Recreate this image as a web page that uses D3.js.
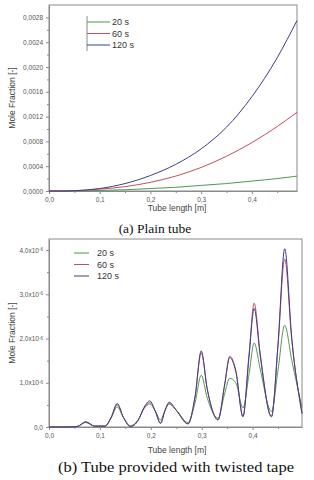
<!DOCTYPE html>
<html>
<head>
<meta charset="utf-8">
<script src="https://cdn.jsdelivr.net/npm/d3@7"></script>
<style>
  body { margin: 0; background: #fff; }
  svg { display: block; }
  .tick text { fill: #555; font-family: "Liberation Sans", Arial, sans-serif; }
  .domain { stroke: #8a8a8a; }
  .tick line { stroke: #8a8a8a; }
</style>
</head>
<body>
<div id="chart-area"></div>
<script>
// series names / colours
var seriesNames = ["20 s", "60 s", "120 s"];
var seriesColours = ["#4e9a4e", "#c0505a", "#3b3f8f"];

// (a) plain tube
var plainX   = [0, 0.03, 0.05, 0.1, 0.15, 0.2, 0.25, 0.3, 0.35, 0.4, 0.45, 0.489];
var plain20  = [0, 0, 0, 0.00001, 0.00002, 0.00004, 0.00006, 0.00009, 0.00012, 0.00016, 0.0002, 0.00024];
var plain60  = [0, 0, 0.000003, 0.00003, 0.00007, 0.00014, 0.00024, 0.00038, 0.00056, 0.00078, 0.00104, 0.00127];
var plain120 = [0, 0, 0.000005, 0.00004, 0.00012, 0.00025, 0.00043, 0.00068, 0.00103, 0.00152, 0.00215, 0.00275];
var plainYTicks = [0, 0.0004, 0.0008, 0.0012, 0.0016, 0.002, 0.0024, 0.0028];

// (b) twisted tape  (values in 1e-6)
var tapeX   = [0, 0.03, 0.055, 0.072, 0.09, 0.11, 0.122, 0.134, 0.146, 0.16, 0.175, 0.187, 0.198, 0.209, 0.219, 0.228, 0.236, 0.25, 0.273, 0.287, 0.299, 0.311, 0.332, 0.345, 0.355, 0.367, 0.381, 0.393, 0.403, 0.415, 0.437, 0.45, 0.463, 0.477, 0.497];
var tape20  = [0, 0, 0.01, 0.1, 0.02, 0.02, 0.2, 0.45, 0.22, 0.03, 0.16, 0.42, 0.52, 0.36, 0.16, 0.38, 0.52, 0.38, 0.1, 0.55, 1.17, 0.65, 0.2, 0.75, 1.1, 1.0, 0.43, 1.2, 1.9, 1.3, 0.35, 1.3, 2.3, 1.5, 0.45];
var tape60  = [0, 0, 0.01, 0.11, 0.02, 0.02, 0.21, 0.5, 0.22, 0.01, 0.15, 0.43, 0.55, 0.35, 0.09, 0.37, 0.53, 0.38, 0.07, 0.68, 1.68, 0.85, 0.17, 0.95, 1.6, 1.28, 0.24, 1.65, 2.8, 1.65, 0.24, 1.85, 3.8, 1.95, 0.32];
var tape120 = [0, 0, 0.01, 0.12, 0.02, 0.02, 0.22, 0.53, 0.22, 0.01, 0.15, 0.45, 0.59, 0.35, 0.08, 0.38, 0.56, 0.38, 0.07, 0.7, 1.72, 0.85, 0.16, 0.95, 1.57, 1.25, 0.23, 1.6, 2.68, 1.6, 0.23, 1.9, 4.03, 2.0, 0.3];
var tapeYTicks = [0, 1, 2, 3, 4];

var xTicks = [0, 0.1, 0.2, 0.3, 0.4];

var W = 314, H = 480;
var svg = d3.select("#chart-area").append("svg")
    .attr("width", W)
    .attr("height", H);

function comma(s) { return s.replace(".", ","); }

function drawPanel(p) {
    var x = d3.scaleLinear().domain([0, p.xMax]).range([p.left, p.right]);
    var y = d3.scaleLinear().domain([0, p.yMax]).range([p.bottom, p.top]);
    var g = svg.append("g");

    // minor ticks
    var xMinor = d3.range(0.05, p.xMax, 0.1);
    g.append("g")
        .attr("transform", "translate(0," + p.bottom + ")")
        .call(d3.axisBottom(x).tickValues(xMinor).tickSize(2).tickFormat(""))
        .call(function(a){ a.select(".domain").remove(); });
    g.append("g")
        .attr("transform", "translate(" + p.left + ",0)")
        .call(d3.axisLeft(y).tickValues(p.yMinor).tickSize(2).tickFormat(""))
        .call(function(a){ a.select(".domain").remove(); });

    // frame
    g.append("rect")
        .attr("x", p.left).attr("y", p.top)
        .attr("width", p.right - p.left).attr("height", p.bottom - p.top)
        .attr("fill", "none").attr("stroke", "#8a8a8a");

    var xAxis = g.append("g")
        .attr("transform", "translate(0," + p.bottom + ")")
        .call(d3.axisBottom(x).tickValues(xTicks).tickSize(3).tickPadding(3)
            .tickSizeOuter(0)
            .tickFormat(function(d){ return comma(d3.format(".1f")(d)); }));
    xAxis.selectAll("text").attr("font-size", "6.5px");

    var yAxis = g.append("g")
        .attr("transform", "translate(" + p.left + ",0)")
        .call(d3.axisLeft(y).tickValues(p.yTicks).tickSize(3).tickPadding(3)
            .tickSizeOuter(0).tickFormat(""));
    yAxis.selectAll(".tick").each(function(d) {
        var t = d3.select(this).append("text")
            .attr("x", -6).attr("dy", "0.32em")
            .attr("text-anchor", "end")
            .attr("font-size", "6.5px");
        p.yLabel(t, d);
    });

    var line = d3.line()
        .x(function(d){ return x(d[0]); })
        .y(function(d){ return y(d[1]); })
        .curve(d3.curveMonotoneX);

    p.series.forEach(function(vals, i) {
        g.append("path")
            .datum(p.xs.map(function(v, j){ return [v, vals[j]]; }))
            .attr("fill", "none")
            .attr("stroke", seriesColours[i])
            .attr("stroke-width", 1)
            .attr("d", line);
    });

    // axis titles
    g.append("text")
        .attr("x", 177).attr("y", p.titleY)
        .attr("text-anchor", "middle")
        .attr("font-family", "Liberation Sans, Arial, sans-serif")
        .attr("font-size", "8.5px").attr("fill", "#444")
        .text("Tube length [m]");
    g.append("text")
        .attr("transform", "translate(15," + ((p.top + p.bottom) / 2) + ") rotate(-90)")
        .attr("text-anchor", "middle")
        .attr("font-family", "Liberation Sans, Arial, sans-serif")
        .attr("font-size", "8.5px").attr("fill", "#444")
        .text("Mole Fraction [-]");

    // legend
    var leg = g.append("g").attr("transform", "translate(" + p.legX + "," + p.legY + ")");
    if (p.legBar) {
        leg.append("line").attr("x1", 0).attr("x2", 0).attr("y1", -6).attr("y2", 29)
            .attr("stroke", "#8a8a8a");
    }
    seriesNames.forEach(function(name, i) {
        var row = leg.append("g").attr("transform", "translate(0," + (i * 11.5) + ")");
        row.append("line").attr("x1", 0).attr("x2", p.legLen).attr("y1", 0).attr("y2", 0)
            .attr("stroke", seriesColours[i]).attr("stroke-width", 1);
        row.append("text").attr("x", p.legLen + p.legGap).attr("y", 3.2)
            .attr("font-family", "Liberation Sans, Arial, sans-serif")
            .attr("font-size", "9px").attr("fill", "#333")
            .text(name);
    });

    // caption
    var cap = svg.append("text")
        .attr("x", p.capX).attr("y", p.capY)
        .attr("text-anchor", "middle")
        .attr("font-family", "Liberation Serif, Times New Roman, serif")
        .attr("font-size", p.capSize).attr("fill", "#111")
        .text(p.caption);
    if (p.capLen) cap.attr("textLength", p.capLen).attr("lengthAdjust", "spacingAndGlyphs");
}

drawPanel({
    left: 49, right: 297, top: 5, bottom: 191,
    xMax: 0.489, yMax: 0.003,
    yTicks: plainYTicks,
    yMinor: d3.range(0.0002, 0.003, 0.0004),
    yLabel: function(t, d){ t.text(comma(d3.format(".4f")(d))); },
    xs: plainX, series: [plain20, plain60, plain120],
    titleY: 211,
    legX: 87, legY: 22, legLen: 23, legGap: 2, legBar: true,
    caption: "(a) Plain tube", capX: 155, capY: 233, capSize: "13.5px"
});

drawPanel({
    left: 49, right: 302, top: 239, bottom: 427,
    xMax: 0.497, yMax: 4.25,
    yTicks: tapeYTicks,
    yMinor: [0.5, 1.5, 2.5, 3.5],
    yLabel: function(t, d){
        if (d === 0) { t.text("0,0"); return; }
        t.append("tspan").text(comma(d3.format(".1f")(d)) + "x10");
        t.append("tspan").attr("font-size", "4.5px").attr("dy", "-0.35em").text("-6");
    },
    xs: tapeX, series: [tape20, tape60, tape120],
    titleY: 453,
    legX: 74, legY: 253, legLen: 15, legGap: 8, legBar: false,
    caption: "(b) Tube provided with twisted tape", capX: 176, capY: 472, capSize: "14px", capLen: 236
});
</script>
</body>
</html>
